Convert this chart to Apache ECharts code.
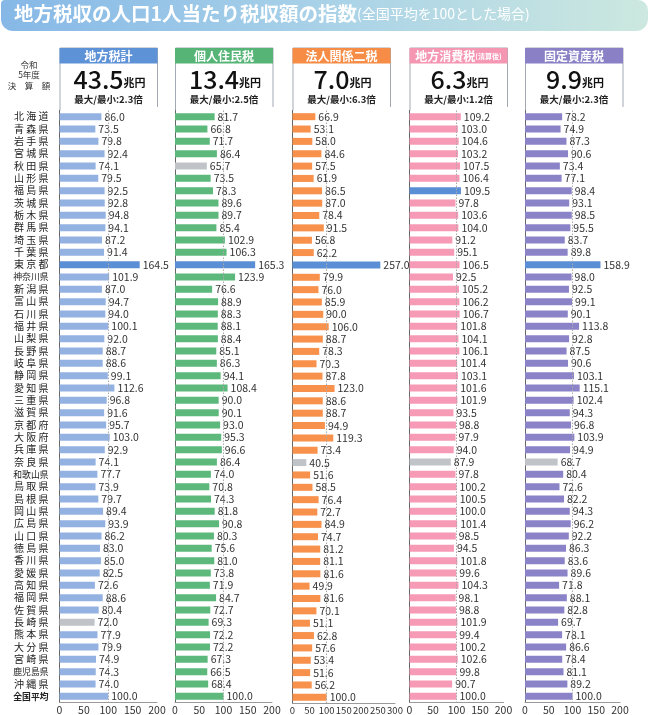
<!DOCTYPE html>
<html><head><meta charset="utf-8">
<script src="https://cdn.jsdelivr.net/npm/echarts@6/dist/echarts.min.js"></script>
<style>html,body{margin:0;padding:0;background:#fff}#c{width:650px;height:715px}</style>
</head><body><div id="c"></div>
<script>
// ---- data ----
const prefectures = ['北海道','青森県','岩手県','宮城県','秋田県','山形県','福島県','茨城県','栃木県','群馬県','埼玉県','千葉県','東京都','神奈川県','新潟県','富山県','石川県','福井県','山梨県','長野県','岐阜県','静岡県','愛知県','三重県','滋賀県','京都府','大阪府','兵庫県','奈良県','和歌山県','鳥取県','島根県','岡山県','広島県','山口県','徳島県','香川県','愛媛県','高知県','福岡県','佐賀県','長崎県','熊本県','大分県','宮崎県','鹿児島県','沖縄県','全国平均'];
const panelTitles = ['地方税計','個人住民税','法人関係二税','地方消費税','固定資産税'];
const panelTotals = ['43.5','13.4','7.0','6.3','9.9'];
const panelRatios = ['2.3','2.5','6.3','1.2','2.3'];
const axisMax = [200,200,300,200,200];
const localTaxTotal = [86.0,73.5,79.8,92.4,74.1,79.5,92.5,92.8,94.8,94.1,87.2,91.4,164.5,101.9,87.0,94.7,94.0,100.1,92.0,88.7,88.6,99.1,112.6,96.8,91.6,95.7,103.0,92.9,74.1,77.7,73.9,79.7,89.4,93.9,86.2,83.0,85.0,82.5,72.6,88.6,80.4,72.0,77.9,79.9,74.9,74.3,74.0,100.0];
const individualInhabitant = [81.7,66.8,71.7,86.4,65.7,73.5,78.3,89.6,89.7,85.4,102.9,106.3,165.3,123.9,76.6,88.9,88.3,88.1,88.4,85.1,86.3,94.1,108.4,90.0,90.1,93.0,95.3,96.6,86.4,74.0,70.8,74.3,81.8,90.8,80.3,75.6,81.0,73.8,71.9,84.7,72.7,69.3,72.2,72.2,67.3,66.5,68.4,100.0];
const corporateTwo = [66.9,53.1,58.0,84.6,57.5,61.9,86.5,87.0,78.4,91.5,56.8,62.2,257.0,79.9,76.0,85.9,90.0,106.0,88.7,78.3,70.3,87.8,123.0,88.6,88.7,94.9,119.3,73.4,40.5,51.6,58.5,76.4,72.7,84.9,74.7,81.2,81.1,81.6,49.9,81.6,70.1,51.1,62.8,57.6,53.4,51.6,56.2,100.0];
const localConsumption = [109.2,103.0,104.6,103.2,107.5,106.4,109.5,97.8,103.6,104.0,91.2,95.1,106.5,92.5,105.2,106.2,106.7,101.8,104.1,106.1,101.4,103.1,101.6,101.9,93.5,98.8,97.9,94.0,87.9,97.8,100.2,100.5,100.0,101.4,98.5,94.5,101.8,99.6,104.3,98.1,98.8,101.9,99.4,100.2,102.6,99.8,90.7,100.0];
const fixedAsset = [78.2,74.9,87.3,90.6,73.4,77.1,98.4,93.1,98.5,95.5,83.7,89.8,158.9,98.0,92.5,99.1,90.1,113.8,92.8,87.5,90.6,103.1,115.1,102.4,94.3,96.8,103.9,94.9,68.7,80.4,72.6,82.2,94.3,96.2,92.2,86.3,83.6,89.6,71.8,88.1,82.8,69.7,78.1,86.6,78.4,81.1,89.2,100.0];
const seriesValues = [localTaxTotal, individualInhabitant, corporateTwo, localConsumption, fixedAsset];

// ---- layout / style ----
const FONT = '"Noto Sans CJK JP", "Noto Sans", sans-serif';
const lefts = [59.5, 175, 292.5, 409.5, 525];
const widths = [97.5, 97, 102.5, 94, 95];
const boxW = 98;
const barColors = ['#93b2e2','#5cb87b','#f7914c','#f69ab6','#8b83c8'];
const headColors = ['#5e92d7','#56b576','#f68c45','#f596b3','#8a80c5'];
const maxColor = '#5b8fd5';
const minColor = '#c0c4c9';
const gridTop = 110.5, gridBottom = 11.5;

const grids = [], xAxes = [], yAxes = [], series = [], graphics = [];

// title bar
graphics.push({type:'rect', shape:{x:1,y:0,width:647,height:31,r:[4,10,12,12]}, style:{fill:new echarts.graphic.LinearGradient(0,0,1,0,[{offset:0,color:'#86b8e7'},{offset:0.5,color:'#a9d2e8'},{offset:1,color:'#cce8df'}])}});
graphics.push({type:'text', left:14, top:4, style:{text:'{a|地方税収の人口1人当たり税収額の指数}{b|(全国平均を100とした場合)}', rich:{a:{fontSize:19.5,fontWeight:'bold',fill:'#fff',fontFamily:FONT}, b:{fontSize:14,fill:'#fff',fontFamily:FONT}}, fill:'#fff', font:'bold 19px '+FONT}});

// left header label
[['令和',65],['5年度',74.5],['決　算　額',86]].forEach(([t,y])=>{
  graphics.push({type:'text', x:29, y:y, style:{text:t, fontSize:8.5, fontFamily:FONT, fill:'#333', align:'center', verticalAlign:'middle'}});
});

function fmtName(n){
  if (n.length === 3) return '{n|' + n.split('').join(' ') + '}';
  if (n === '全国平均') return '{t|' + n + '}';
  return '{c|' + n + '}';
}

seriesValues.forEach((vals, i) => {
  grids.push({left:lefts[i], width:widths[i], top:gridTop, bottom:gridBottom, containLabel:false});
  xAxes.push({type:'value', gridIndex:i, min:0, max:axisMax[i], interval:50,
    axisLine:{show:true, lineStyle:{color:'#9a9a9a', width:1}}, axisTick:{show:false}, splitLine:{show:false},
    axisLabel:{fontSize: i===2 ? 9.5 : 10.5, color:'#333', margin:2, fontFamily:FONT}});
  yAxes.push({type:'category', gridIndex:i, data:prefectures, inverse:true,
    axisLine:{show:true, lineStyle:{color:'#666', width:1}}, axisTick:{show:false},
    axisLabel: i===0 ? {show:true, interval:0, margin:11, align:'right', formatter:fmtName, color:'#222', fontFamily:FONT,
      rich:{n:{fontSize:10, fontFamily:FONT, color:'#222'}, c:{fontSize:8.8, fontFamily:FONT, color:'#222'}, t:{fontSize:8.8, fontFamily:FONT, color:'#222', fontWeight:'bold'}}} : {show:false}});
  const prefVals = vals.slice(0, 47);
  const mx = Math.max(...prefVals), mn = Math.min(...prefVals);
  series.push({type:'bar', xAxisIndex:i, yAxisIndex:i, barWidth:7,
    data: vals.map((v, k) => ({value:v, itemStyle:{color: k<47 && v===mx ? maxColor : (k<47 && v===mn ? minColor : barColors[i])}})),
    label:{show:true, position:'right', distance:3, fontSize:10.5, color:'#333', fontFamily:FONT, formatter:p=>p.value.toFixed(1)},
    markLine:{silent:true, symbol:'none', label:{show:false}, lineStyle:{color:'#aaa', type:[1.5,1.5], width:1}, data:[{xAxis:100}]},
    animation:false});

  const L = lefts[i], R = lefts[i] + boxW, cx = L + boxW/2;
  graphics.push({type:'polyline', shape:{points:[[L+0.5,gridTop],[L+0.5,48],[R,48],[R,107]]}, style:{stroke:'#a3a9b3', lineWidth:1, fill:null}});
  graphics.push({type:'rect', shape:{x:L,y:48,width:boxW,height:15.5}, style:{fill:headColors[i]}});
  const ttl = i===3 ? '{a|地方消費税}{s|(清算後)}' : '{a|'+panelTitles[i]+'}';
  graphics.push({type:'text', x:cx, y:56, style:{text:ttl, align:'center', verticalAlign:'middle',
    rich:{a:{fontSize:12, fontWeight:'bold', fill:'#fff', fontFamily:FONT}, s:{fontSize:7, fontWeight:'bold', fill:'#fff', fontFamily:FONT}}}});
  graphics.push({type:'text', x:cx+1, y:79, style:{text:'{a|'+panelTotals[i]+'}{b|兆円}', align:'center', verticalAlign:'middle',
    rich:{a:{fontSize:25, fill:'#111', fontFamily:FONT, fontWeight:500, verticalAlign:'bottom'}, b:{fontSize:11, fontWeight:'bold', fill:'#111', fontFamily:FONT, verticalAlign:'bottom', padding:[0,0,3,0]}}}});
  graphics.push({type:'text', x:cx, y:99, style:{text:'最大/最小:'+panelRatios[i]+'倍', align:'center', verticalAlign:'middle', fontSize:9.5, fontWeight:'bold', fill:'#222', fontFamily:FONT}});
});

const chart = echarts.init(document.getElementById('c'), null, {renderer:'canvas'});
chart.setOption({animation:false, grid:grids, xAxis:xAxes, yAxis:yAxes, series:series, graphic:graphics});
</script></body></html>
